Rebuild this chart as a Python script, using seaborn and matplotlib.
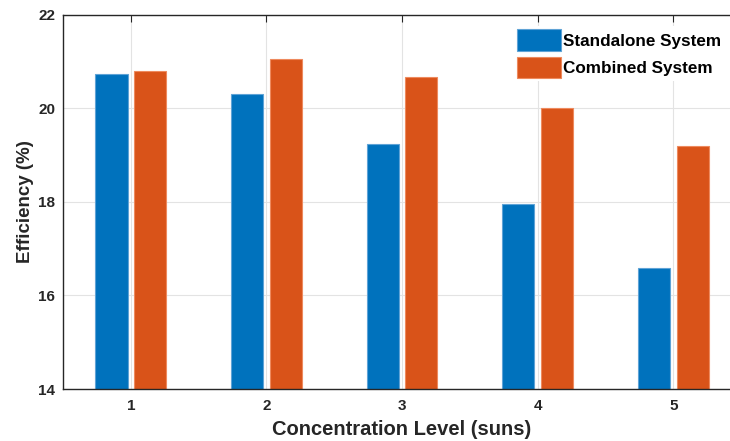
import pandas as pd
import matplotlib.pyplot as plt
import seaborn as sns
from matplotlib.patches import Patch

# Values
levels = ['1', '2', '3', '4', '5']
standalone = [20.74, 20.30, 19.24, 17.95, 16.58]
combined = [20.79, 21.05, 20.66, 20.00, 19.19]
series_names = ['Standalone System', 'Combined System']
colors = ['#0072BD', '#D95319']
edge_colors = ['#5fa3d6', '#ee8a5e']

df = pd.DataFrame({
    'Level': levels * 2,
    'Efficiency': standalone + combined,
    'System': [series_names[0]] * len(levels) + [series_names[1]] * len(levels),
})

sns.set_style('white')
plt.rcParams['font.family'] = ['Liberation Sans', 'DejaVu Sans']
plt.rcParams['font.weight'] = 'bold'

fig = plt.figure(figsize=(7.3, 4.41), dpi=100)
ax = fig.add_axes([0.0863, 0.1179, 0.929, 0.8488])

sns.barplot(data=df, x='Level', y='Efficiency', hue='System',
            palette=colors, saturation=1, width=0.57, gap=0.17,
            legend=False, ax=ax)

for cont, ec in zip(ax.containers, edge_colors):
    for bar in cont:
        bar.set_edgecolor(ec)
        bar.set_linewidth(0.8)

ax.set_xlim(-0.5, 4.5)
ax.set_ylim(14, 22)
ax.set_yticks([14, 16, 18, 20, 22])

ax.grid(True, color='#e3e3e3', linewidth=0.8)
ax.set_axisbelow(True)

for side in ['left', 'bottom', 'top']:
    ax.spines[side].set_color('#262626')
    ax.spines[side].set_linewidth(1.0)
ax.spines['right'].set_visible(False)

ax.tick_params(direction='in', top=True, right=False, length=5, width=0.8,
               color='#262626', labelcolor='#262626', labelsize=11)
ax.tick_params(axis='y', pad=5.5)
ax.tick_params(axis='x', pad=7)
for lab in ax.get_xticklabels() + ax.get_yticklabels():
    lab.set_fontweight('bold')

ax.set_xlabel('Concentration Level (suns)', fontsize=14.5, fontweight='bold',
              color='#262626', labelpad=5)
ax.set_ylabel('Efficiency (%)', fontsize=13.5, fontweight='bold',
              color='#262626', labelpad=3)

# legend box is opaque white (hides the grid behind it), no border
handles = [Patch(facecolor=c, edgecolor=e, linewidth=0.8) for c, e in zip(colors, edge_colors)]
leg = ax.legend(handles, series_names, loc='upper left', bbox_to_anchor=(0.664, 0.97),
                frameon=True, facecolor='white', edgecolor='none', framealpha=1,
                fancybox=False, fontsize=12.3, handlelength=2.57, handleheight=1.53,
                handletextpad=0.12, labelspacing=0.36, borderpad=0.2, borderaxespad=0)
for t in leg.get_texts():
    t.set_fontweight('bold')
    t.set_color('black')

fig.savefig('out.png', dpi=100)
